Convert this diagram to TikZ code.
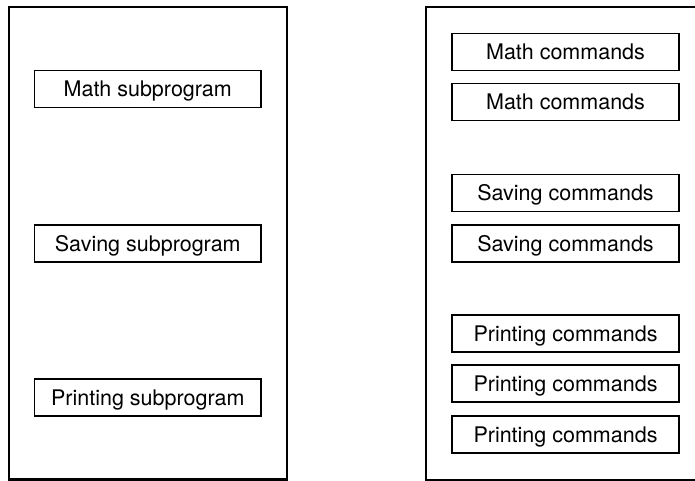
\documentclass[tikz,border=0pt]{standalone}
\usepackage{fontspec}
\setmainfont{TeX Gyre Heros}
\begin{document}
\begin{tikzpicture}[x=1pt,y=-1pt,
  bigframe/.style={draw=black,line width=2.2pt},
  cmdbox/.style={draw=black,line width=1.2pt,minimum width=227pt,minimum height=37pt,inner sep=0pt,text height=15pt,text depth=0pt,font=\fontsize{21.5}{24}\selectfont,text=black},
  subbox/.style={cmdbox,minimum width=226.5pt}]
\useasboundingbox (0,0) rectangle (695,480);
\clip (0,0) rectangle (695,480);
% left frame
\node[bigframe,minimum width=278pt,minimum height=472.5pt,inner sep=0pt] (L) at (148,243.3) {};
% right frame (open at the right)
\coordinate (rtr) at (700,7);
\coordinate (rtl) at (426,7);
\coordinate (rbl) at (426,479.6);
\coordinate (rbr) at (700,479.6);
\draw[bigframe] (rtr) -- (rtl) -- (rbl) -- (rbr);
% left boxes
\node[subbox] (ms) at (147.75,89.25) {Math subprogram};
\node[subbox] (ss) at (147.75,243.5) {Saving subprogram};
\node[subbox] (ps) at (147.75,397.5) {Printing subprogram};
% right boxes
\node[cmdbox] (mc1) at (565.5,51.75) {Math commands};
\node[cmdbox] (mc2) at (565.5,102) {Math commands};
\node[cmdbox] (sc1) at (565.5,193) {Saving commands};
\node[cmdbox] (sc2) at (565.5,243.5) {Saving commands};
\node[cmdbox] (pc1) at (565.5,333.5) {Printing commands};
\node[cmdbox] (pc2) at (565.5,383.5) {Printing commands};
\node[cmdbox] (pc3) at (565.5,434.5) {Printing commands};
\end{tikzpicture}
\end{document}
